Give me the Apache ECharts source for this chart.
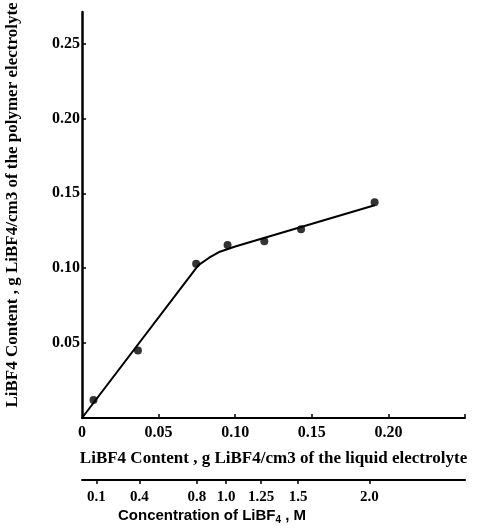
<!DOCTYPE html>
<html>
<head>
<meta charset="utf-8">
<script src="https://cdn.jsdelivr.net/npm/echarts@6/dist/echarts.min.js"></script>
<style>html,body{margin:0;padding:0;background:#fff;}#c{width:491px;height:529px;}</style>
</head>
<body>
<div id="c"></div>
<script>
// Measured points (x: g LiBF4/cm3 liquid, y: g LiBF4/cm3 polymer)
var pointX = [0.0075, 0.0365, 0.0745, 0.095, 0.119, 0.143, 0.191];
var pointY = [0.012, 0.045, 0.103, 0.1155, 0.118, 0.126, 0.144];
// Fitted line drawn through the points
var lineX = [0, 0.076, 0.083, 0.090, 0.100, 0.191];
var lineY = [0, 0.102, 0.107, 0.111, 0.1145, 0.142];
// Tick labels
var xTickValues = [0, 0.05, 0.10, 0.15, 0.20];
var yTickValues = [0.05, 0.10, 0.15, 0.20, 0.25];
// Secondary axis: molar concentration labels and their positions on the g/cm3 scale
var concLabels = ['0.1', '0.4', '0.8', '1.0', '1.25', '1.5', '2.0'];
var concPositions = [0.0094, 0.0375, 0.075, 0.094, 0.117, 0.141, 0.1875];

var serif = '"Liberation Serif","DejaVu Serif",serif';
var sans = '"Liberation Sans",Arial,sans-serif';
var chart = echarts.init(document.getElementById('c'));
var pts = pointX.map(function (x, i) { return [x, pointY[i]]; });
var ln = lineX.map(function (x, i) { return [x, lineY[i]]; });

chart.setOption({
  animation: false,
  backgroundColor: '#fff',
  grid: { left: 82, right: 26, top: 12, bottom: 111 },
  graphic: [{
    type: 'text', x: 13, y: 205, rotation: Math.PI / 2,
    style: { text: 'LiBF4 Content , g LiBF4/cm3 of the polymer electrolyte', fontFamily: serif, fontSize: 17, fontWeight: 'bold', fill: '#000', align: 'center', verticalAlign: 'middle' }
  }, {
    type: 'text', x: 212, y: 516,
    style: { text: '{a|Concentration of LiBF}{s|4}{a| , M}', align: 'center', verticalAlign: 'middle',
      rich: {
        a: { fontFamily: sans, fontSize: 15, fontWeight: 'bold', fill: '#000' },
        s: { fontFamily: sans, fontSize: 10, fontWeight: 'bold', fill: '#000', padding: [9, 0, 0, 0] }
      } }
  }],
  xAxis: [{
    type: 'value', min: 0, max: 0.25, position: 'bottom',
    name: 'LiBF4 Content , g LiBF4/cm3 of the liquid electrolyte',
    nameLocation: 'middle', nameGap: 32,
    nameTextStyle: { fontFamily: serif, fontSize: 17, fontWeight: 'bold', color: '#000' },
    axisLine: { show: true, lineStyle: { color: '#000', width: 2 } },
    axisTick: { show: true, inside: true, length: 4, customValues: [0.05, 0.10, 0.15, 0.20, 0.25], lineStyle: { color: '#000', width: 1.5 } },
    axisLabel: { customValues: xTickValues, margin: 7, fontFamily: serif, fontSize: 16, fontWeight: 'bold', color: '#000',
      formatter: function (v) { return v === 0 ? '0' : v.toFixed(2); } },
    splitLine: { show: false }
  }, {
    type: 'value', min: 0, max: 0.25, position: 'bottom', offset: 62,
    axisLine: { show: true, lineStyle: { color: '#000', width: 2 } },
    axisTick: { show: true, inside: false, length: 4, customValues: concPositions, lineStyle: { color: '#000', width: 1.5 } },
    axisLabel: { customValues: concPositions, margin: 10, fontFamily: serif, fontSize: 15, fontWeight: 'bold', color: '#000',
      formatter: function (v) { var i = concPositions.indexOf(v); return i >= 0 ? concLabels[i] : ''; } },
    splitLine: { show: false }
  }],
  yAxis: {
    type: 'value', min: 0, max: 0.271,
    axisLine: { show: true, lineStyle: { color: '#000', width: 2.5 } },
    axisTick: { show: true, inside: true, length: 4, customValues: yTickValues, lineStyle: { color: '#000', width: 1.5 } },
    axisLabel: { customValues: yTickValues, margin: 2, fontFamily: serif, fontSize: 16, fontWeight: 'bold', color: '#000',
      formatter: function (v) { return v.toFixed(2); } },
    splitLine: { show: false }
  },
  series: [{
    type: 'line', data: ln, xAxisIndex: 0, showSymbol: false, symbol: 'none',
    lineStyle: { color: '#000', width: 2 }
  }, {
    type: 'scatter', data: pts, xAxisIndex: 0, symbol: 'circle', symbolSize: 8,
    itemStyle: { color: '#000' }
  }]
});
</script>
</body>
</html>
